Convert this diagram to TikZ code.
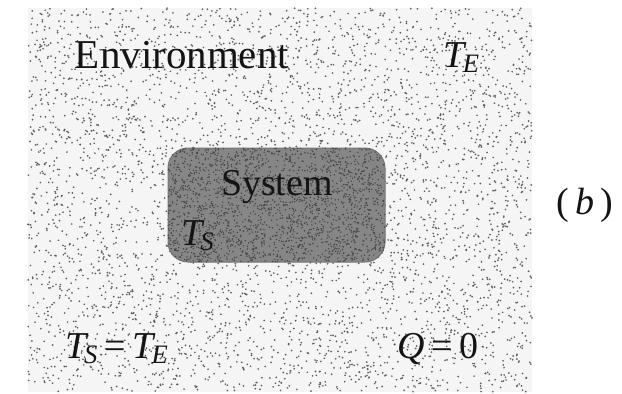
\documentclass[tikz,border=0pt]{standalone}
\usepackage{fontspec}
\setmainfont{Liberation Serif}
\usetikzlibrary{positioning}
\definecolor{ink}{HTML}{141414}
\definecolor{speck}{HTML}{5E5E5E}
\definecolor{sysfill}{HTML}{868686}
\newcommand{\tsym}[1]{\textit{T}\kern-0.08em\textsubscript{\kern-0.05em\textit{#1}}}

\begin{document}
\begin{tikzpicture}[x=0.5pt, y=-0.5pt,
    envbox/.style={fill=black!4, minimum width=252pt, minimum height=192pt, inner sep=0pt},
    sysbox/.style={fill=sysfill, draw=black!55, line width=0.5pt, rounded corners=10pt,
                   minimum width=108.5pt, minimum height=57pt, inner sep=0pt},
    lbl/.style={text=ink, inner sep=0pt, anchor=base, font=\fontsize{19}{22}\selectfont},
    biglbl/.style={lbl, font=\fontsize{20.5}{24}\selectfont},
  ]
  \useasboundingbox (0,0) rectangle (622,393);
  \node[envbox] (env) at (280,200) {};
  % stipple of the environment
  \pgfmathsetseed{4711}
  \foreach \i in {1,...,4400}
    \fill[speck] ({28+504*rnd},{8+384*rnd}) circle (0.95);

  \node[sysbox] (sys) at (276.5,205) {};
  % darker grain inside the system
  \begin{scope}
    \clip[rounded corners=10pt] (sys.south west) rectangle (sys.north east);
    \foreach \i in {1,...,2200}
      \fill[black!72] ({168+217*rnd},{148+114*rnd}) circle (0.8);
  \end{scope}

  \node[biglbl] (envlbl) at (182,68)  {Environment};
  \node[lbl]    (te)     at (462,67)  {\tsym{E}};
  \node[lbl]    (syslbl) at (277,195) {System};
  \node[lbl]    (ts)     at (198,245) {\tsym{S}};
  \node[lbl]    (eq)     at (117,358) {\tsym{S}\,=\,\tsym{E}};
  \node[lbl]    (q)      at (438,358) {\textit{Q}\,=\,0};
  \node[lbl]    (fig)    at (585,214) {(\,\textit{b}\,)};
\end{tikzpicture}
\end{document}
